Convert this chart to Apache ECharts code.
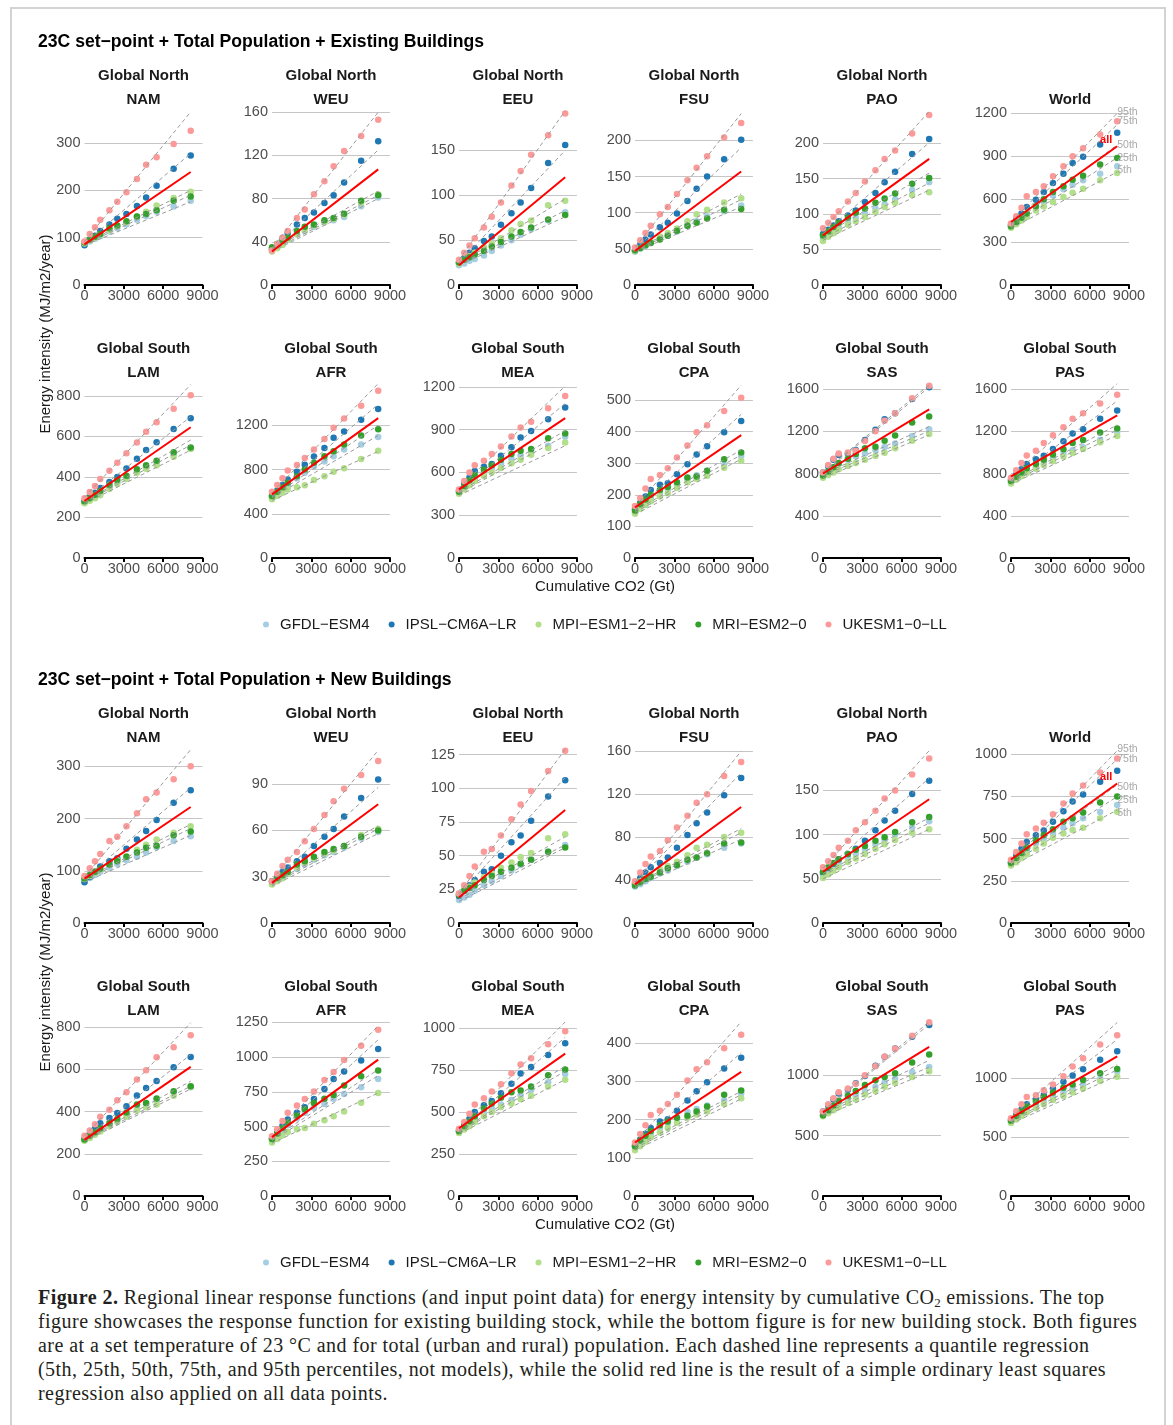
<!DOCTYPE html>
<html>
<head>
<meta charset="utf-8">
<title>Regional linear response functions</title>
<script src="https://cdn.jsdelivr.net/npm/echarts@6.0.0/dist/echarts.min.js"></script>
<style>
  html, body { margin: 0; padding: 0; background: #fff; }
  #page { position: relative; width: 1173px; height: 1425px; overflow: hidden; }
  #frame { position: absolute; left: 10px; top: 7px; width: 1152px; height: 1500px; border: 2px solid #d3d3d3; }
  #chart { position: absolute; left: 0; top: 0; width: 1173px; height: 1285px; }
  #caption {
    position: absolute; left: 38px; top: 1285px;
    font-family: 'Liberation Serif', 'DejaVu Serif', serif;
    font-size: 20px; letter-spacing: 0.45px; line-height: 24px; color: #231f20; white-space: nowrap;
  }
  #caption sub { font-size: 13px; line-height: 0; vertical-align: -3px; letter-spacing: 0; }
</style>
</head>
<body>
<div id="page">
  <div id="frame"></div>
  <div id="chart"></div>
  <div id="caption"><b>Figure 2.</b> Regional linear response functions (and input point data) for energy intensity by cumulative CO<sub>2</sub> emissions. The top<br>figure showcases the response function for existing building stock, while the bottom figure is for new building stock. Both figures<br>are at a set temperature of 23 °C and for total (urban and rural) population. Each dashed line represents a quantile regression<br>(5th, 25th, 50th, 75th, and 95th percentiles, not models), while the solid red line is the result of a simple ordinary least squares<br>regression also applied on all data points.</div>
</div>
<script>
// cumulative CO2 (Gt) at which every model was sampled
const cumCO2 = [0, 400, 800, 1200, 1900, 2500, 3200, 4000, 4700, 5500, 6800, 8100];
const models = ['GFDL−ESM4', 'IPSL−CM6A−LR', 'MPI−ESM1−2−HR', 'MRI−ESM2−0', 'UKESM1−0−LL'];
const quantileNames = ['5th', '25th', '50th', '75th', '95th'];
const regionNames = ['NAM', 'WEU', 'EEU', 'FSU', 'PAO', 'World', 'LAM', 'AFR', 'MEA', 'CPA', 'SAS', 'PAS'];
const regionGroups = ['Global North', 'Global North', 'Global North', 'Global North', 'Global North', '',
  'Global South', 'Global South', 'Global South', 'Global South', 'Global South', 'Global South'];
const blockTitles = ['23C set−point + Total Population + Existing Buildings',
  '23C set−point + Total Population + New Buildings'];

// ---- existing buildings: rows GFDL, IPSL, MPI, MRI, UKESM ----
const exNAM = [
  [86, 92, 98, 103, 113, 120, 128, 138, 146, 155, 166, 178],
  [84, 95, 104, 114, 128, 140, 150, 167, 185, 210, 246, 274],
  [88, 94, 100, 106, 116, 124, 133, 145, 155, 168, 184, 197],
  [90, 96, 102, 108, 120, 126, 135, 145, 150, 158, 178, 187],
  [92, 108, 122, 138, 158, 176, 196, 224, 254, 270, 298, 326]];
// start/end of q5, q25, q50, q75, q95, then OLS
const exNAMFit = [[84, 176], [86, 190], [88, 200], [88, 278], [92, 366], [86, 239]];

const exWEU = [
  [33, 35, 38, 42, 47, 50, 54, 58, 60, 63, 73, 81],
  [33, 38, 43, 48, 56, 62, 67, 76, 83, 95, 115, 133],
  [31, 34, 37, 42, 47, 51, 55, 58, 61, 65, 76, 84],
  [35, 38, 41, 44, 50, 54, 56, 60, 62, 66, 78, 83],
  [32, 38, 44, 50, 62, 70, 84, 96, 110, 124, 138, 153]];
const exWEUFit = [[31, 80], [32, 83], [33, 87], [33, 125], [34, 160], [31, 107]];

const exEEU = [
  [22, 24, 27, 29, 33, 38, 44, 50, 56, 62, 72, 81],
  [25, 30, 36, 41, 49, 54, 67, 80, 92, 108, 136, 156],
  [24, 28, 32, 36, 42, 46, 52, 61, 68, 72, 89, 94],
  [25, 28, 31, 34, 38, 43, 48, 54, 59, 64, 73, 78],
  [28, 36, 44, 52, 64, 76, 92, 111, 127, 145, 167, 191]];
const exEEUFit = [[22, 76], [23, 83], [24, 96], [25, 150], [28, 194], [22, 120]];

const exFSU = [
  [46, 50, 54, 58, 64, 68, 74, 82, 88, 95, 102, 110],
  [48, 56, 63, 70, 80, 86, 99, 116, 133, 150, 174, 201],
  [47, 51, 55, 60, 67, 72, 78, 88, 98, 104, 114, 120],
  [48, 51, 55, 58, 63, 68, 75, 82, 86, 92, 104, 105],
  [52, 62, 72, 82, 98, 108, 126, 145, 162, 178, 204, 224]];
const exFSUFit = [[46, 108], [47, 118], [48, 126], [49, 190], [52, 237], [47, 157]];

const exPAO = [
  [66, 71, 77, 82, 89, 95, 101, 108, 114, 121, 134, 145],
  [72, 78, 84, 90, 98, 105, 117, 130, 145, 160, 185, 206],
  [62, 68, 73, 78, 85, 90, 96, 103, 110, 116, 127, 131],
  [70, 76, 82, 88, 95, 102, 108, 116, 122, 129, 143, 151],
  [80, 88, 96, 104, 118, 130, 146, 162, 178, 190, 214, 240]];
const exPAOFit = [[63, 134], [66, 144], [70, 158], [72, 201], [78, 245], [70, 178]];

const exWorld = [
  [415, 440, 465, 495, 540, 580, 625, 669, 700, 732, 778, 830],
  [420, 460, 500, 545, 596, 650, 713, 778, 853, 897, 982, 1064],
  [400, 425, 450, 475, 520, 548, 580, 615, 645, 673, 732, 783],
  [410, 440, 470, 500, 550, 600, 650, 690, 736, 763, 842, 888],
  [430, 480, 540, 620, 650, 690, 760, 830, 900, 955, 1052, 1145]];
const exWorldFit = [[395, 790], [410, 890], [420, 980], [425, 1120], [440, 1200], [440, 970]];

const exLAM = [
  [278, 292, 306, 322, 350, 372, 398, 425, 448, 470, 510, 540],
  [275, 300, 322, 345, 375, 400, 441, 490, 532, 571, 636, 689],
  [270, 282, 295, 310, 340, 365, 390, 420, 440, 458, 499, 537],
  [280, 295, 312, 330, 360, 385, 405, 438, 458, 480, 521, 545],
  [295, 325, 355, 390, 430, 470, 516, 570, 623, 670, 736, 802]];
const exLAMFit = [[268, 532], [275, 557], [278, 582], [282, 697], [300, 855], [281, 645]];

const exAFR = [
  [550, 590, 625, 660, 720, 770, 830, 872, 920, 980, 1025, 1093],
  [560, 610, 660, 710, 780, 842, 918, 995, 1087, 1143, 1249, 1347],
  [530, 560, 590, 620, 640, 658, 704, 740, 780, 811, 894, 970],
  [560, 600, 640, 680, 740, 800, 860, 920, 964, 1025, 1108, 1163],
  [600, 660, 720, 790, 840, 905, 980, 1075, 1178, 1260, 1377, 1512]];
const exAFRFit = [[520, 964], [545, 1108], [555, 1200], [565, 1390], [590, 1577], [575, 1264]];

const exMEA = [
  [465, 495, 525, 555, 595, 630, 665, 695, 720, 741, 788, 851],
  [470, 520, 565, 610, 640, 660, 718, 778, 846, 892, 974, 1056],
  [450, 480, 510, 540, 575, 600, 632, 665, 690, 725, 772, 811],
  [465, 505, 545, 580, 620, 650, 690, 730, 753, 765, 841, 874],
  [480, 540, 600, 650, 683, 730, 783, 853, 916, 956, 1051, 1137]];
const exMEAFit = [[440, 788], [455, 858], [465, 893], [470, 1084], [490, 1207], [482, 981]];

const exCPA = [
  [145, 160, 175, 188, 205, 218, 232, 250, 262, 276, 295, 323],
  [155, 175, 195, 215, 232, 237, 265, 297, 328, 354, 398, 434],
  [140, 155, 168, 180, 195, 205, 222, 240, 250, 260, 286, 308],
  [150, 170, 185, 200, 215, 225, 240, 255, 258, 276, 313, 334],
  [165, 190, 220, 250, 263, 284, 318, 356, 398, 420, 465, 507]];
const exCPAFit = [[138, 313], [145, 326], [150, 342], [152, 455], [162, 547], [160, 389]];

const exSAS = [
  [800, 830, 860, 890, 930, 960, 990, 1022, 1050, 1085, 1155, 1218],
  [810, 870, 930, 975, 990, 1022, 1117, 1215, 1313, 1370, 1506, 1617],
  [760, 785, 810, 840, 870, 900, 930, 965, 997, 1038, 1111, 1174],
  [780, 820, 860, 900, 940, 985, 1040, 1054, 1111, 1160, 1282, 1339],
  [810, 880, 940, 990, 1000, 1016, 1108, 1200, 1300, 1370, 1513, 1630]];
const exSASFit = [[760, 1165], [780, 1202], [795, 1244], [805, 1617], [815, 1640], [800, 1408]];

const exPAS = [
  [720, 755, 790, 820, 860, 900, 940, 990, 1020, 1049, 1120, 1195],
  [740, 790, 840, 890, 935, 968, 1032, 1105, 1179, 1220, 1318, 1396],
  [705, 740, 775, 805, 845, 880, 915, 960, 995, 1032, 1097, 1156],
  [730, 770, 810, 850, 890, 930, 980, 1030, 1088, 1118, 1188, 1227],
  [760, 830, 900, 970, 1016, 1088, 1162, 1238, 1318, 1370, 1464, 1545]];
const exPASFit = [[700, 1162], [720, 1211], [730, 1260], [740, 1487], [770, 1650], [773, 1351]];

const exYMax = [370, 162, 195, 242, 247, 1223, 863, 1582, 1228, 554, 1657, 1657];
const exYStep = [100, 40, 50, 50, 50, 300, 200, 400, 300, 100, 400, 400];

// ---- new buildings ----
const nwNAM = [
  [80, 86, 92, 98, 106, 113, 120, 127, 135, 145, 157, 166],
  [78, 88, 98, 108, 118, 124, 142, 160, 176, 197, 230, 254],
  [84, 90, 96, 102, 112, 120, 128, 140, 150, 160, 173, 185],
  [85, 92, 98, 104, 112, 118, 127, 135, 144, 148, 168, 175],
  [90, 105, 118, 132, 157, 165, 185, 210, 237, 250, 275, 300]];
const nwNAMFit = [[78, 168], [82, 181], [84, 189], [85, 259], [88, 332], [85, 222]];

const nwWEU = [
  [26, 28, 30, 32, 35, 38, 41, 44, 46, 49, 55, 59],
  [27, 30, 33, 36, 40, 43, 50, 56, 61, 69, 81, 93],
  [25, 27, 29, 32, 36, 39, 42, 45, 47, 50, 57, 61],
  [27, 29, 31, 33, 38, 40, 43, 46, 48, 50, 56, 60],
  [27, 32, 37, 41, 46, 53, 61, 70, 79, 87, 96, 105]];
const nwWEUFit = [[24, 58], [25, 61], [26, 63], [27, 88], [28, 112], [26, 77]];

const nwEEU = [
  [17, 19, 21, 24, 28, 31, 35, 39, 43, 47, 53, 58],
  [20, 24, 28, 32, 38, 40, 50, 60, 65, 76, 94, 106],
  [22, 25, 27, 30, 34, 37, 41, 45, 49, 52, 63, 66],
  [21, 24, 26, 28, 32, 35, 38, 41, 44, 47, 53, 56],
  [22, 28, 35, 42, 53, 55, 65, 77, 88, 98, 113, 128]];
const nwEEUFit = [[16, 56], [18, 58], [20, 64], [21, 108], [22, 129], [19, 84]];

const nwFSU = [
  [34, 36, 39, 42, 46, 49, 53, 57, 61, 64, 70, 74],
  [37, 42, 47, 52, 56, 61, 70, 82, 93, 103, 119, 135],
  [36, 39, 42, 45, 50, 53, 57, 63, 70, 73, 80, 84],
  [35, 38, 41, 43, 47, 51, 54, 59, 61, 65, 74, 75],
  [39, 47, 55, 62, 67, 77, 89, 100, 112, 120, 137, 150]];
const nwFSUFit = [[33, 78], [35, 84], [36, 88], [37, 140], [38, 160], [36, 108]];

const nwPAO = [
  [55, 59, 63, 67, 73, 78, 83, 89, 94, 100, 108, 115],
  [57, 62, 67, 72, 78, 84, 93, 105, 116, 127, 146, 161],
  [51, 55, 59, 63, 69, 73, 78, 84, 89, 94, 102, 106],
  [58, 63, 68, 72, 78, 83, 87, 93, 97, 103, 114, 120],
  [63, 70, 77, 85, 93, 105, 114, 127, 141, 150, 168, 186]];
const nwPAOFit = [[50, 106], [54, 113], [56, 119], [58, 164], [62, 195], [58, 140]];

const nwWorld = [
  [355, 380, 405, 430, 470, 500, 530, 564, 590, 620, 657, 699],
  [360, 400, 440, 480, 520, 548, 600, 661, 719, 760, 836, 901],
  [340, 360, 385, 405, 440, 470, 505, 530, 550, 564, 620, 659],
  [355, 385, 415, 445, 490, 520, 555, 600, 620, 654, 713, 749],
  [375, 420, 470, 525, 560, 594, 644, 708, 766, 814, 891, 974]];
const nwWorldFit = [[335, 669], [350, 748], [360, 818], [365, 970], [375, 1020], [376, 826]];

const nwLAM = [
  [265, 280, 295, 312, 338, 360, 385, 410, 430, 455, 490, 515],
  [270, 295, 320, 345, 370, 393, 425, 476, 512, 545, 610, 659],
  [262, 275, 290, 305, 330, 350, 375, 405, 420, 433, 475, 517],
  [268, 285, 302, 320, 345, 365, 395, 433, 440, 462, 496, 520],
  [285, 310, 340, 375, 409, 453, 491, 552, 596, 657, 705, 762]];
const nwLAMFit = [[260, 507], [265, 520], [268, 544], [272, 670], [285, 821], [266, 612]];

const nwAFR = [
  [405, 440, 475, 510, 560, 600, 635, 663, 700, 735, 783, 843],
  [415, 460, 505, 550, 600, 639, 699, 771, 843, 897, 975, 1058],
  [385, 410, 435, 460, 480, 489, 520, 545, 575, 608, 671, 742],
  [410, 450, 490, 530, 580, 625, 670, 700, 728, 795, 862, 903],
  [430, 480, 540, 600, 651, 699, 752, 835, 893, 980, 1082, 1197]];
const nwAFRFit = [[380, 742], [400, 867], [410, 910], [420, 1125], [430, 1226], [424, 982]];

const nwMEA = [
  [385, 410, 435, 460, 495, 520, 545, 571, 600, 631, 677, 726],
  [390, 425, 460, 500, 540, 565, 611, 668, 728, 767, 839, 909],
  [375, 395, 415, 440, 475, 500, 530, 550, 575, 597, 651, 692],
  [385, 415, 445, 475, 520, 550, 585, 617, 627, 651, 718, 752],
  [400, 440, 490, 545, 581, 621, 665, 730, 782, 820, 903, 980]];
const nwMEAFit = [[370, 692], [380, 742], [385, 772], [390, 944], [400, 1035], [403, 847]];

const nwCPA = [
  [125, 138, 150, 162, 177, 190, 205, 220, 228, 237, 250, 268],
  [132, 148, 163, 178, 195, 201, 223, 250, 274, 298, 334, 362],
  [120, 130, 142, 153, 166, 178, 192, 205, 213, 221, 241, 256],
  [130, 145, 158, 170, 185, 195, 205, 210, 221, 234, 265, 276],
  [140, 162, 185, 212, 223, 241, 265, 302, 332, 350, 387, 422]];
const nwCPAFit = [[120, 254], [125, 265], [130, 274], [132, 375], [140, 456], [140, 325]];

const nwSAS = [
  [690, 715, 740, 770, 800, 830, 870, 905, 940, 972, 1028, 1069],
  [700, 750, 800, 850, 880, 935, 994, 1080, 1153, 1222, 1319, 1417],
  [660, 685, 710, 735, 770, 800, 840, 870, 905, 939, 986, 1033],
  [670, 710, 750, 790, 830, 870, 920, 960, 986, 1018, 1106, 1172],
  [700, 760, 810, 860, 890, 931, 1000, 1075, 1153, 1220, 1328, 1439]];
const nwSASFit = [[660, 1028], [680, 1069], [690, 1125], [700, 1422], [705, 1444], [694, 1236]];

const nwPAS = [
  [630, 665, 700, 730, 770, 800, 840, 880, 910, 943, 994, 1057],
  [645, 690, 735, 780, 820, 856, 914, 970, 1023, 1077, 1158, 1230],
  [620, 650, 680, 710, 745, 780, 815, 850, 880, 914, 977, 1014],
  [640, 680, 720, 760, 800, 840, 880, 920, 948, 985, 1043, 1080],
  [660, 720, 780, 842, 856, 899, 948, 1018, 1100, 1170, 1287, 1365]];
const nwPASFit = [[615, 1023], [630, 1072], [640, 1115], [650, 1330], [665, 1474], [661, 1187]];

const nwYMax = [335, 113.5, 130, 163, 198, 1036, 829, 1260, 1041, 458, 1450, 1487];
const nwYStep = [100, 30, 25, 40, 50, 250, 200, 250, 250, 100, 500, 500];

// ---- layout and style ----
const FONT = '"Liberation Sans", Arial, sans-serif';
const modelColors = ['#a6cee3', '#1f78b4', '#b2df8a', '#33a02c', '#fb9a99'];
const colX = [84.5, 272, 459, 635, 823, 1011];
const panelW = 118, panelH = 175;
const rowAxisY = [285, 558, 923, 1196];
const blockTitleY = [42, 680];
const legendTop = [612, 1250];
const xTitleY = [587, 1225];
const yTitleY = [334, 972];
// offsets of the World quantile labels (5th..95th, then "all")
const worldLabelDy = [[-2, 0, 0, -4, -1, -6], [3, 3, 2, 0, -2, -7]];

const blocks = [
  { panels: [[exNAM, exNAMFit], [exWEU, exWEUFit], [exEEU, exEEUFit], [exFSU, exFSUFit], [exPAO, exPAOFit], [exWorld, exWorldFit],
             [exLAM, exLAMFit], [exAFR, exAFRFit], [exMEA, exMEAFit], [exCPA, exCPAFit], [exSAS, exSASFit], [exPAS, exPASFit]],
    yMax: exYMax, yStep: exYStep },
  { panels: [[nwNAM, nwNAMFit], [nwWEU, nwWEUFit], [nwEEU, nwEEUFit], [nwFSU, nwFSUFit], [nwPAO, nwPAOFit], [nwWorld, nwWorldFit],
             [nwLAM, nwLAMFit], [nwAFR, nwAFRFit], [nwMEA, nwMEAFit], [nwCPA, nwCPAFit], [nwSAS, nwSASFit], [nwPAS, nwPASFit]],
    yMax: nwYMax, yStep: nwYStep }
];

function label(x, y, text, font, extra) {
  return Object.assign({
    type: 'text', x: x, y: y, silent: true,
    style: { text: text, font: font, fill: '#1a1a1a', align: 'center', verticalAlign: 'middle',
             textAlign: 'center', textVerticalAlign: 'middle' }
  }, extra || {});
}
function plain(v) { return String(v); }

const grids = [], xAxes = [], yAxes = [], series = [], graphics = [];
const xEnd = cumCO2[cumCO2.length - 1];

blocks.forEach(function (blk, b) {
  graphics.push({ type: 'text', x: 38, y: blockTitleY[b], silent: true,
    style: { text: blockTitles[b], font: 'bold 17.6px ' + FONT, fill: '#000', align: 'left', verticalAlign: 'middle',
             textAlign: 'left', textVerticalAlign: 'middle' } });
  graphics.push(label(605, xTitleY[b], 'Cumulative CO2 (Gt)', '15px ' + FONT));
  graphics.push(label(46, yTitleY[b], 'Energy intensity (MJ/m2/year)', '15px ' + FONT, { rotation: Math.PI / 2 }));

  blk.panels.forEach(function (p, i) {
    const g = b * 12 + i;
    const col = i % 6, row = Math.floor(i / 6);
    const axisY = rowAxisY[b * 2 + row];
    const left = colX[col];
    const vals = p[0], fit = p[1];

    grids.push({ left: left, top: axisY - panelH, width: panelW, height: panelH, outerBoundsMode: 'none' });
    xAxes.push({
      gridIndex: g, type: 'value', min: 0, max: 9000, interval: 3000,
      axisLine: { show: true, onZero: false, lineStyle: { color: '#000', width: 2 } },
      axisTick: { show: true, length: 4, lineStyle: { color: '#000', width: 2 } },
      axisLabel: { color: '#4d4d4d', fontSize: 14.5, margin: 3, fontFamily: FONT, formatter: plain },
      splitLine: { show: false }
    });
    yAxes.push({
      gridIndex: g, type: 'value', min: 0, max: blk.yMax[i], interval: blk.yStep[i],
      axisLine: { show: false }, axisTick: { show: false },
      axisLabel: { color: '#4d4d4d', fontSize: 14.5, margin: 4, fontFamily: FONT, showMaxLabel: false, formatter: plain },
      splitLine: { show: true, showMaxLine: false, lineStyle: { color: '#c6c6c6', width: 1 } }
    });

    vals.forEach(function (v, m) {
      series.push({
        type: 'scatter', name: models[m], xAxisIndex: g, yAxisIndex: g,
        data: cumCO2.map(function (x, k) { return [x, v[k]]; }),
        symbolSize: 6.5, itemStyle: { color: modelColors[m], opacity: 1 },
        clip: false, silent: true, z: 2
      });
    });

    fit.forEach(function (f, q) {
      const isOls = q === 5;
      const s = {
        type: 'line', xAxisIndex: g, yAxisIndex: g,
        data: [[0, f[0]], [xEnd, f[1]]],
        symbol: 'none', silent: true, z: isOls ? 4 : 3,
        lineStyle: isOls ? { color: '#ff0000', width: 2 } : { color: '#9a9a9a', width: 1, type: [4, 3] }
      };
      if (regionNames[i] === 'World') {
        s.endLabel = isOls
          ? { show: true, formatter: 'all', color: '#ff0000', fontWeight: 'bold', fontSize: 11, fontFamily: FONT,
              distance: 0, align: 'center', offset: [-11, worldLabelDy[b][5]] }
          : { show: true, formatter: quantileNames[q], color: '#a8a8a8', fontSize: 10.5, fontFamily: FONT,
              distance: 0, align: 'left', offset: [0, worldLabelDy[b][q]] };
      }
      series.push(s);
    });

    const cx = left + panelW / 2;
    if (regionGroups[i]) graphics.push(label(cx, axisY - 209, regionGroups[i], 'bold 15px ' + FONT));
    graphics.push(label(cx, axisY - 185, regionNames[i], 'bold 15px ' + FONT));
  });
});

const chart = echarts.init(document.getElementById('chart'), null, { renderer: 'canvas' });
chart.setOption({
  animation: false,
  backgroundColor: 'transparent',
  textStyle: { fontFamily: FONT },
  grid: grids,
  xAxis: xAxes,
  yAxis: yAxes,
  legend: [0, 1].map(function (b) {
    return {
      top: legendTop[b], left: 258, orient: 'horizontal', data: models, icon: 'circle',
      itemWidth: 18, itemHeight: 6, itemGap: 19, selectedMode: false,
      textStyle: { fontSize: 15, color: '#1a1a1a', fontFamily: FONT }
    };
  }),
  graphic: graphics,
  series: series
});
</script>
</body>
</html>
